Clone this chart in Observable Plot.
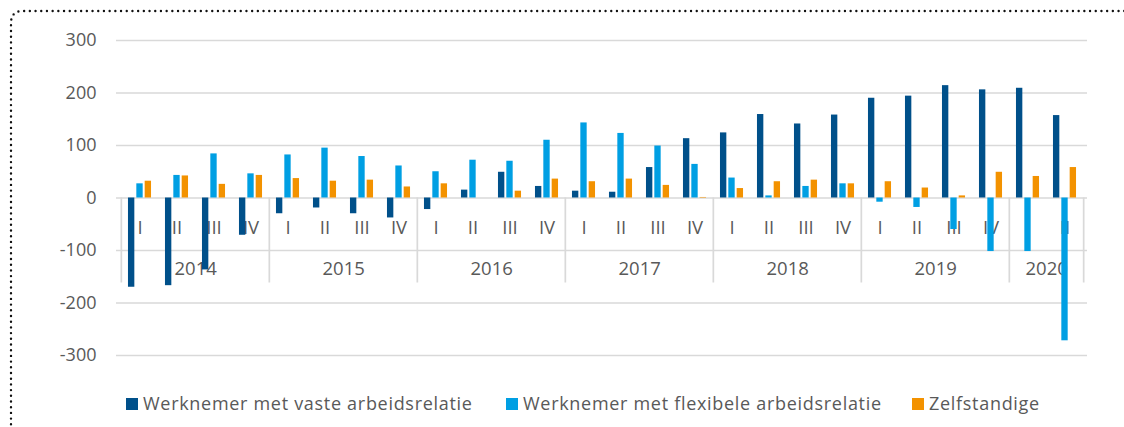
<!DOCTYPE html>
<html>
<head>
<meta charset="utf-8">
<script src="https://cdn.jsdelivr.net/npm/d3@7"></script>
<script src="https://cdn.jsdelivr.net/npm/@observablehq/plot@0.6"></script>
<style>
  html, body { margin: 0; padding: 0; background: #fff; overflow: hidden; }
  body { width: 1124px; height: 427px; position: relative; font-family: "Open Sans", sans-serif; }
  #chart { position: absolute; left: 0; top: 0; }
  #frame { position: absolute; left: 0; top: 0; pointer-events: none; }
  .legend { position: absolute; top: 392px; height: 24px; font-size: 18px; letter-spacing: 0.7px; color: #595959; white-space: nowrap; }
  .legend .sw { position: absolute; top: 6px; width: 12px; height: 12px; }
  .legend .lb { position: absolute; top: -1px; }
</style>
</head>
<body>
<div id="chart"></div>
<div id="legend"></div>
<svg id="frame" width="1124" height="427">
  <path d="M 11 430 L 11 23 Q 11 11 23 11 L 1130 11" fill="none" stroke="#111" stroke-width="2.4" stroke-linecap="round" stroke-dasharray="0 5.7"/>
</svg>
<script>
// ---- data ----
const years = ["2014", "2015", "2016", "2017", "2018", "2019", "2020"];
const quartersPerYear = [4, 4, 4, 4, 4, 4, 2];
const quarterLabels = ["I", "II", "III", "IV"];
const seriesNames = ["Werknemer met vaste arbeidsrelatie", "Werknemer met flexibele arbeidsrelatie", "Zelfstandige"];
const seriesColors = ["#00508a", "#009fe3", "#f39200"];
const vast = [-170, -167, -137, -71, -30, -19, -30, -38, -22, 15, 49, 22, 13, 11, 58, 113, 124, 159, 141, 158, 190, 194, 214, 206, 209, 157];
const flex = [27, 43, 84, 46, 82, 95, 79, 61, 50, 72, 70, 110, 143, 123, 99, 64, 38, 4, 22, 27, -8, -18, -60, -102, -102, -272];
const zelf = [32, 42, 26, 43, 37, 32, 34, 21, 27, 0, 13, 36, 31, 36, 24, 1, 18, 31, 34, 27, 31, 19, 4, 49, 41, 58];
const yTicks = [-300, -200, -100, 0, 100, 200, 300];

// ---- derived tables ----
const quarters = [];
years.forEach((y, yi) => {
  for (let q = 0; q < quartersPerYear[yi]; q++) quarters.push({key: y + "-" + quarterLabels[q], year: y, label: quarterLabels[q]});
});
const keys = quarters.map(d => d.key);
const rows = [vast, flex, zelf].map((vals, si) => quarters.map((q, i) => ({key: q.key, value: vals[i], series: seriesNames[si]})));

const W = 1124, H = 380, ML = 116, MR = 37, MT = 40, MB = 25;
const step = (W - ML - MR) / keys.length;
const barW = 6.7, gap = 8.35;
const inset = (step - barW) / 2;

// year label anchor: quarter just left of each year's centre
const yearLabels = years.map((y, yi) => {
  const first = quarters.findIndex(q => q.year === y);
  return {key: keys[first + quartersPerYear[yi] / 2 - 1], text: y};
});
// year boundaries: left edge of each year's first quarter, plus the right end
const boundaries = years.map(y => ({key: quarters.find(q => q.year === y).key}));

const textFill = "#595959";
const grid = "#d9d9d9";

const chart = Plot.plot({
  width: W, height: H,
  marginLeft: ML, marginRight: MR, marginTop: MT, marginBottom: MB,
  style: {fontFamily: "Open Sans", fontSize: "18px", color: textFill, background: "transparent"},
  x: {type: "band", domain: keys, padding: 0, axis: null},
  y: {domain: [-300, 300], axis: null, label: null},
  marks: [
    Plot.ruleY(yTicks, {stroke: grid, strokeWidth: 1.7}),
    Plot.ruleX(boundaries, {x: "key", y1: 0, y2: 0, dx: -step / 2, insetBottom: -85, stroke: grid, strokeWidth: 1.7}),
    Plot.ruleX([keys[keys.length - 1]], {x: d => d, y1: 0, y2: 0, dx: step / 2, insetBottom: -85, stroke: grid, strokeWidth: 1.7}),
    Plot.text(quarters, {x: "key", y: 0, dy: 30, text: "label", fill: textFill, fontSize: 18.5}),
    Plot.text(yearLabels, {x: "key", y: 0, dy: 71, dx: step / 2, text: "text", fill: textFill, fontSize: 18.5}),
    Plot.axisY({ticks: yTicks, tickSize: 0, tickPadding: 20, tickFormat: d => String(d), fontSize: 18, fill: textFill, label: null}),
    ...rows.map((data, si) => Plot.barY(data, {
      x: "key", y: "value", fill: seriesColors[si],
      insetLeft: inset, insetRight: inset, dx: (si - 1) * gap
    }))
  ]
});
document.getElementById("chart").appendChild(chart);

// ---- legend ----
const legendX = [126, 506, 912];
const legend = document.getElementById("legend");
seriesNames.forEach((name, i) => {
  const item = document.createElement("div");
  item.className = "legend";
  item.style.left = legendX[i] + "px";
  item.innerHTML = `<span class="sw" style="left:0;background:${seriesColors[i]}"></span><span class="lb" style="left:17px">${name}</span>`;
  legend.appendChild(item);
});
</script>
</body>
</html>
